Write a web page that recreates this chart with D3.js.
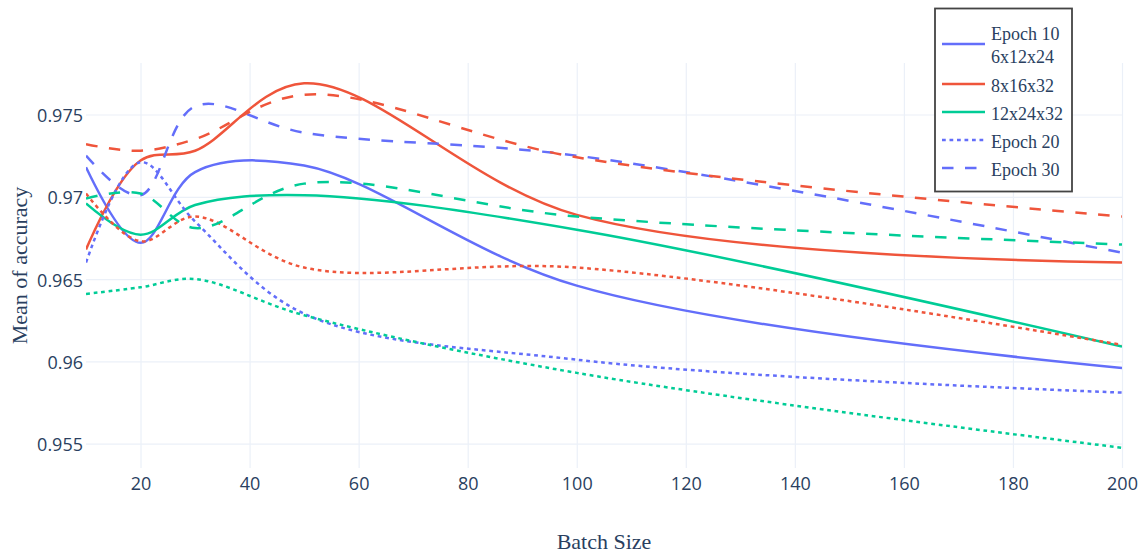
<!DOCTYPE html>
<html><head><meta charset="utf-8">
<script src="https://cdn.jsdelivr.net/npm/d3@7"></script>
<style>body{margin:0;background:#fff}</style>
</head><body>
<svg id="c" width="1147" height="556"></svg>
<script>
// ---- data ----
const batchSizes = [10, 20, 30, 50, 100, 200];
const e10_6x12x24  = [0.9718, 0.9672, 0.9715, 0.9719, 0.9646, 0.9596];
const e10_8x16x32  = [0.9668, 0.9722, 0.9728, 0.9769, 0.9689, 0.9660];
const e10_12x24x32 = [0.9696, 0.9677, 0.9695, 0.9701, 0.9680, 0.9609];
const e20_6x12x24  = [0.9660, 0.9721, 0.9685, 0.9629, 0.9601, 0.9581];
const e20_8x16x32  = [0.9702, 0.9673, 0.9688, 0.9657, 0.9657, 0.9610];
const e20_12x24x32 = [0.9641, 0.9645, 0.9650, 0.9628, 0.9593, 0.95475];
const e30_6x12x24  = [0.9725, 0.9701, 0.9755, 0.9739, 0.9725, 0.9666];
const e30_8x16x32  = [0.9732, 0.9728, 0.9735, 0.9762, 0.9724, 0.9688];
const e30_12x24x32 = [0.9699, 0.9702, 0.9681, 0.9708, 0.9688, 0.9671];
const xTicks = [20, 40, 60, 80, 100, 120, 140, 160, 180, 200];
const yTicks = [0.955, 0.96, 0.965, 0.97, 0.975];
const yTickLabels = ["0.955", "0.96", "0.965", "0.97", "0.975"];
const legendNames = [["Epoch 10", "6x12x24"], ["8x16x32"], ["12x24x32"], ["Epoch 20"], ["Epoch 30"]];
const xTitle = "Batch Size";
const yTitle = "Mean of accuracy";

const BLUE = "#636efa", RED = "#EF553B", GREEN = "#00cc96";
const DASH = {solid: null, dot: "3.75,3.75", dash: "11.5,11.5"};

const traces = [
  {vals: e10_6x12x24,  color: BLUE,  dash: "solid", legend: 0},
  {vals: e10_8x16x32,  color: RED,   dash: "solid", legend: 1},
  {vals: e10_12x24x32, color: GREEN, dash: "solid", legend: 2},
  {vals: e20_6x12x24,  color: BLUE,  dash: "dot",   legend: 3},
  {vals: e20_8x16x32,  color: RED,   dash: "dot",   legend: -1},
  {vals: e20_12x24x32, color: GREEN, dash: "dot",   legend: -1},
  {vals: e30_6x12x24,  color: BLUE,  dash: "dash",  legend: 4},
  {vals: e30_8x16x32,  color: RED,   dash: "dash",  legend: -1},
  {vals: e30_12x24x32, color: GREEN, dash: "dash",  legend: -1}
];

// ---- layout ----
const L = 86, R = 1122, T = 63, B = 468;
const FONT_COLOR = "#2a3f5f";
const svg = d3.select("#c");

const allVals = traces.flatMap(t => t.vals);
const vmin = d3.min(allVals), vmax = d3.max(allVals);
const pad = (vmax - vmin) * 0.05 / 0.9;

const x = d3.scaleLinear().domain([10, 200]).range([L, R]);
const y = d3.scaleLinear().domain([vmin - pad, vmax + pad]).range([B, T]);

// grid + axes
const gx = svg.append("g").attr("transform", `translate(0,${B})`)
  .call(d3.axisBottom(x).tickValues(xTicks).tickSizeInner(-(B - T)).tickSizeOuter(0).tickPadding(9).tickFormat(d3.format("d")));
const gy = svg.append("g").attr("transform", `translate(${L},0)`)
  .call(d3.axisLeft(y).tickValues(yTicks).tickSizeInner(-(R - L)).tickSizeOuter(0).tickPadding(3)
    .tickFormat((d, i) => yTickLabels[i]));
[gx, gy].forEach(g => {
  g.select(".domain").remove();
  g.selectAll(".tick line").attr("stroke", "#EBF0F8").attr("stroke-width", 1.2);
  g.selectAll(".tick text").attr("fill", FONT_COLOR).style("font-family", "'Open Sans', sans-serif").style("font-size", "18px");
});
gy.selectAll(".tick text").attr("dy", "0.4em");

// plotly-like spline
function makeTangent(p0, p1, p2, s) {
  const d1x = p0[0] - p1[0], d1y = p0[1] - p1[1];
  const d2x = p2[0] - p1[0], d2y = p2[1] - p1[1];
  const d1a = Math.pow(d1x * d1x + d1y * d1y, 0.25);
  const d2a = Math.pow(d2x * d2x + d2y * d2y, 0.25);
  const numx = (d2a * d2a * d1x - d1a * d1a * d2x) * s;
  const numy = (d2a * d2a * d1y - d1a * d1a * d2y) * s;
  const den1 = 3 * d2a * (d1a + d2a), den2 = 3 * d1a * (d1a + d2a);
  return [[p1[0] + numx / den1, p1[1] + numy / den1], [p1[0] - numx / den2, p1[1] - numy / den2]];
}
function spline(pts) {
  const p = d3.path();
  p.moveTo(pts[0][0], pts[0][1]);
  const tg = [];
  for (let i = 1; i < pts.length - 1; i++) tg.push(makeTangent(pts[i - 1], pts[i], pts[i + 1], 1));
  p.quadraticCurveTo(tg[0][0][0], tg[0][0][1], pts[1][0], pts[1][1]);
  for (let i = 2; i < pts.length - 1; i++)
    p.bezierCurveTo(tg[i - 2][1][0], tg[i - 2][1][1], tg[i - 1][0][0], tg[i - 1][0][1], pts[i][0], pts[i][1]);
  const t = tg[pts.length - 3][1];
  p.quadraticCurveTo(t[0], t[1], pts[pts.length - 1][0], pts[pts.length - 1][1]);
  return p.toString();
}

svg.append("clipPath").attr("id", "clip").append("rect")
  .attr("x", L).attr("y", T).attr("width", R - L).attr("height", B - T);
const gl = svg.append("g").attr("clip-path", "url(#clip)");
traces.forEach(t => {
  const pts = batchSizes.map((b, i) => [x(b), y(t.vals[i])]);
  gl.append("path").attr("d", spline(pts)).attr("fill", "none")
    .attr("stroke", t.color).attr("stroke-width", 2.5)
    .attr("stroke-dasharray", DASH[t.dash]);
});

// axis titles
svg.append("text").attr("x", (L + R) / 2).attr("y", 549).attr("text-anchor", "middle")
  .attr("fill", FONT_COLOR).style("font-family", "'Liberation Serif', serif").style("font-size", "22px").text(xTitle);
svg.append("text").attr("transform", `translate(27,${(T + B) / 2}) rotate(-90)`).attr("text-anchor", "middle")
  .attr("fill", FONT_COLOR).style("font-family", "'Liberation Serif', serif").style("font-size", "22px").text(yTitle);

// legend
const lg = svg.append("g");
lg.append("rect").attr("x", 935).attr("y", 8.5).attr("width", 137).attr("height", 183)
  .attr("fill", "#fff").attr("stroke", "#444").attr("stroke-width", 1.8);
const itemBase = [[40, 63.3], [91.7], [119.5], [147.7], [175.7]];
const sampleY = [44, 84, 112, 140, 168];
traces.filter(t => t.legend >= 0).forEach(t => {
  const k = t.legend;
  lg.append("line").attr("x1", 942).attr("x2", 985).attr("y1", sampleY[k]).attr("y2", sampleY[k])
    .attr("stroke", t.color).attr("stroke-width", 2.5).attr("stroke-dasharray", DASH[t.dash]);
  legendNames[k].forEach((nm, j) => {
    lg.append("text").attr("x", 991).attr("y", itemBase[k][j]).attr("fill", FONT_COLOR)
      .style("font-family", "'Liberation Serif', serif").style("font-size", "18px").text(nm);
  });
});
</script>
</body></html>
